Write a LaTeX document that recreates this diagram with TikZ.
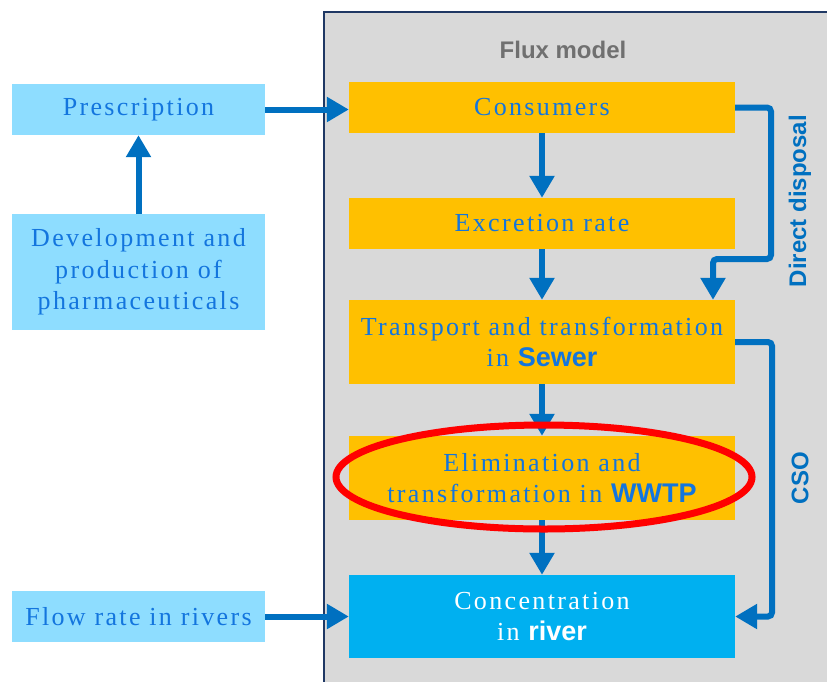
\documentclass[tikz,border=0pt]{standalone}
\usepackage{fontspec}
\setmainfont{Liberation Serif}[LetterSpace=9]
\newfontfamily\hv{Liberation Sans}
\usetikzlibrary{arrows.meta,calc}

\definecolor{panelgray}{HTML}{D9D9D9}
\definecolor{panelline}{HTML}{1F3864}
\definecolor{amber}{HTML}{FFC000}
\definecolor{riverblue}{HTML}{00B0F0}
\definecolor{paleblue}{HTML}{8EDDFF}
\definecolor{flowblue}{HTML}{0070C0}
\definecolor{textblue}{HTML}{1375DE}
\definecolor{titlegray}{HTML}{707070}

\tikzset{
  x=1pt, y=-1pt,
  base/.style={inner sep=0pt, align=center, text=textblue,
    font=\fontsize{26}{31.5}\selectfont},
  inputbox/.style={base, fill=paleblue, minimum width=253pt},
  modelbox/.style={base, fill=amber, minimum width=386pt},
  riverbox/.style={base, fill=riverblue, minimum width=386pt, text=white},
  flow/.style={draw=flowblue, line width=6pt,
    -{Triangle[width=24pt,length=22pt]}},
  sidelabel/.style={text=flowblue, font=\hv\bfseries\fontsize{24}{28}\selectfont,
    rotate=90}
}
% bold sans highlight word inside a serif label
\newcommand{\kw}[1]{{\hv\bfseries\addfontfeature{LetterSpace=0}\fontsize{27}{31.5}\selectfont #1}}

\begin{document}
\begin{tikzpicture}
\useasboundingbox (0,0) rectangle (827,681);

% model panel
\fill[panelgray] (324,12) rectangle (860,720);
\draw[panelline, line width=1.5pt] (324,720) -- (324,12) -- (860,12);
\node[text=titlegray, font=\hv\bfseries\fontsize{24}{28}\selectfont] (title) at (563,50) {Flux model};

% inputs
\node[inputbox, minimum height=51pt] (presc) at (138.5,109.5) {Prescription};
\node[inputbox, minimum height=116pt] (devel) at (138.5,272) {Development and\\production of\\pharmaceuticals};
\node[inputbox, minimum height=51pt] (flowr) at (138.5,616.5) {Flow rate in rivers};

% model chain
\node[modelbox, minimum height=51pt] (cons) at (542,107.5) {Consumers};
\node[modelbox, minimum height=51pt] (excr) at (542,223.5) {Excretion rate};
\node[modelbox, minimum height=84pt] (trans) at (542,342) {Transport and transformation\\in \kw{Sewer}};
\node[modelbox, minimum height=84pt] (elim) at (542,478) {Elimination and\\transformation in \kw{WWTP}};
\node[riverbox, minimum height=83pt] (conc) at (542,616.5) {Concentration\\in \kw{river}};

% main flows
\draw[flow] (devel.north) -- (presc.south);
\draw[flow] (presc.east) -- (presc.east -| cons.west);
\draw[flow] (flowr.east) -- (flowr.east -| conc.west);
\draw[flow] (cons.south) -- (excr.north);
\draw[flow] (excr.south) -- (trans.north);
\draw[flow] (trans.south) -- (elim.north);
\draw[flow] (elim.south) -- (conc.north);

% direct disposal bypass
\coordinate (dd1) at (771,107.5);
\coordinate (dd2) at (771,259);
\coordinate (dd3) at (713,259);
\draw[flow, rounded corners=4pt] (cons.east) -- (dd1) -- (dd2) -- (dd3) -- (dd3 |- trans.north);
\node[sidelabel] (ddlab) at (800,201) {Direct disposal};

% combined sewer overflow
\coordinate (cso1) at (772,342);
\coordinate (cso2) at (772,616.5);
\draw[flow, rounded corners=4pt] (trans.east) -- (cso1) -- (cso2) -- (conc.east);
\node[sidelabel] (csolab) at (800,478) {CSO};

% highlight
\draw[red, line width=7pt] (544,477) ellipse [x radius=208pt, y radius=52pt];
\end{tikzpicture}
\end{document}
